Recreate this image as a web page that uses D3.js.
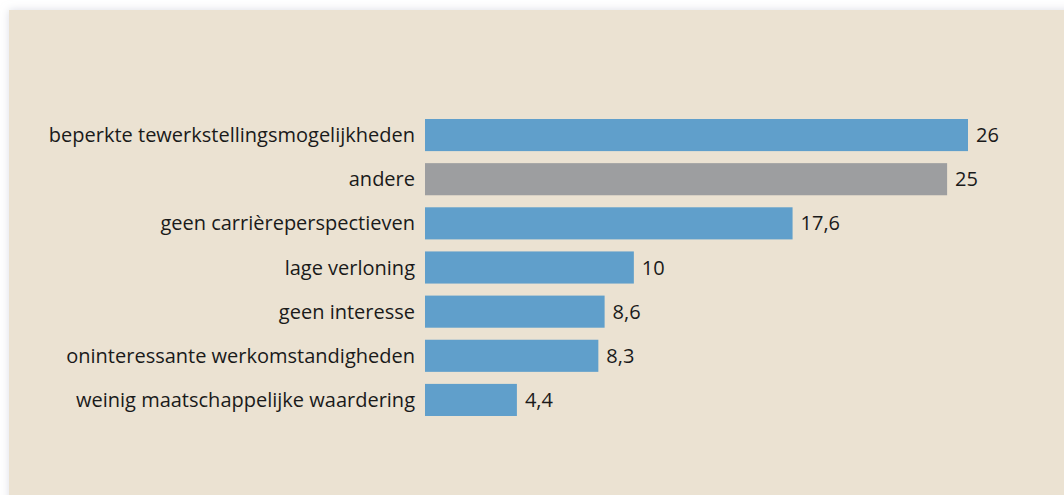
<!DOCTYPE html>
<html>
<head>
<meta charset="utf-8">
<script src="https://cdn.jsdelivr.net/npm/d3@7"></script>
<style>
  body { margin: 0; background: #fff; }
  svg { display: block; }
</style>
</head>
<body>
<svg width="1064" height="495"></svg>
<script>
var categories = [
  "beperkte tewerkstellingsmogelijkheden",
  "andere",
  "geen carrièreperspectieven",
  "lage verloning",
  "geen interesse",
  "oninteressante werkomstandigheden",
  "weinig maatschappelijke waardering"
];
var values = [26, 25, 17.6, 10, 8.6, 8.3, 4.4];
var valueLabels = ["26", "25", "17,6", "10", "8,6", "8,3", "4,4"];
var highlight = ["andere"];

var svg = d3.select("svg"),
    width = +svg.attr("width"),
    height = +svg.attr("height");

var defs = svg.append("defs");
var f = defs.append("filter").attr("id", "shadow")
    .attr("x", "-5%").attr("y", "-5%").attr("width", "110%").attr("height", "110%");
f.append("feDropShadow").attr("dx", 0).attr("dy", 0).attr("stdDeviation", 4)
    .attr("flood-color", "#b8bccc").attr("flood-opacity", 0.5);

svg.append("rect")
    .attr("x", 9).attr("y", 10)
    .attr("width", width).attr("height", height)
    .attr("fill", "#ebe2d2")
    .attr("filter", "url(#shadow)");

var data = categories.map(function(c, i) { return { cat: c, value: values[i], label: valueLabels[i] }; });

var x = d3.scaleLinear().domain([0, 26]).range([425, 968]);
// step 44px, bar 32px
var y = d3.scaleBand().domain(categories).range([119, 416]).paddingInner(12 / 44).paddingOuter(0);

var g = svg.append("g");

g.selectAll(".bar")
  .data(data)
  .enter().append("rect")
    .attr("class", "bar")
    .attr("x", x(0))
    .attr("y", function(d) { return y(d.cat); })
    .attr("width", function(d) { return x(d.value) - x(0); })
    .attr("height", y.bandwidth())
    .attr("fill", function(d) { return highlight.indexOf(d.cat) >= 0 ? "#9d9ea0" : "#609fcb"; });

g.selectAll(".cat")
  .data(data)
  .enter().append("text")
    .attr("class", "cat")
    .attr("x", 415)
    .attr("y", function(d) { return y(d.cat) + y.bandwidth() / 2; })
    .attr("dy", "0.35em")
    .attr("text-anchor", "end")
    .attr("font-family", "Open Sans, sans-serif")
    .attr("font-size", 20)
    .attr("fill", "#1a1a1a")
    .text(function(d) { return d.cat; });

g.selectAll(".val")
  .data(data)
  .enter().append("text")
    .attr("class", "val")
    .attr("x", function(d) { return x(d.value) + 8; })
    .attr("y", function(d) { return y(d.cat) + y.bandwidth() / 2; })
    .attr("dy", "0.35em")
    .attr("font-family", "Open Sans, sans-serif")
    .attr("font-size", 20)
    .attr("fill", "#1a1a1a")
    .text(function(d) { return d.label; });
</script>
</body>
</html>
